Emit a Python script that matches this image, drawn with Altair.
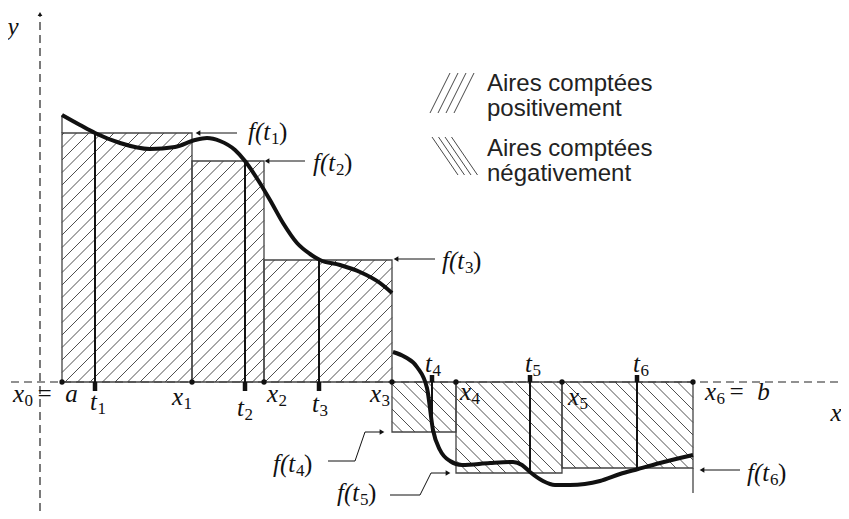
import math
import altair as alt
import pandas as pd

# ---------------- data (units: 1 unit = 10 px, origin at axes crossing) -------------
edges = [2.2, 15.2, 22.4, 35.2, 41.6, 52.2, 65.3]          # x0=a, x1..x6=b
heights = [24.9, 22.1, 12.2, -5.0, -9.1, -8.6]             # f(t1)..f(t6)
tags = [5.5, 20.5, 27.9, 39.2, 49.0, 59.7]                  # t1..t6

curve1_x = [2.2, 4.0, 5.5, 8.0, 11.0, 13.5, 15.5, 16.7, 18.0, 19.5, 20.5, 21.8,
            23.0, 24.3, 25.7, 27.0, 28.0, 30.0, 32.0, 34.0, 35.2]
curve1_y = [26.7, 25.7, 24.9, 23.9, 23.3, 23.5, 24.2, 24.4, 24.1, 23.2, 22.1, 20.2,
            18.2, 15.9, 13.9, 12.8, 12.2, 11.7, 11.0, 9.9, 8.9]
curve2_x = [35.3, 36.5, 37.7, 38.7, 39.3, 40.0, 41.0, 42.2, 45.0, 47.3, 48.2, 49.0,
            50.3, 51.5, 53.0, 56.0, 58.0, 59.8, 62.0, 64.0, 65.3]
curve2_y = [3.0, 2.5, 1.5, -0.6, -4.8, -6.8, -7.9, -8.3, -8.1, -8.0, -8.3, -9.0,
            -9.9, -10.3, -10.3, -9.9, -9.2, -8.7, -8.1, -7.6, -7.3]

# labels: left edge of the main letter and its baseline
x_subs = ["0", "1", "2", "3", "4", "5", "6"]
x_label_x = [-2.7, 13.2, 22.7, 33.0, 42.0, 52.8, 66.5]
x_label_y = [-2.0, -2.3, -2.0, -2.0, -1.8, -2.3, -1.8]
x_suffix = ["=\u2002a", "=\u2002b"]          # for x0 and x6
t_subs = ["1", "2", "3", "4", "5", "6"]
t_label_x = [5.0, 19.7, 27.2, 38.5, 48.5, 59.3]
t_label_y = [-2.8, -3.4, -3.0, 1.0, 1.0, 1.0]
f_label_x = [20.8, 27.3, 40.2, 23.3, 29.7, 70.7]
f_label_y = [24.2, 21.1, 11.3, -9.0, -11.9, -9.85]
axis_names = ["y", "x"]
axis_name_x = [-2.7, 79.6]
axis_name_y = [35.5, -3.1]

# straight arrows: start x, end x (tip), y
arrow_start = [19.7, 26.5, 39.5, 70.0]
arrow_tip = [15.8, 22.7, 35.6, 66.2]
arrow_y = [24.9, 22.1, 12.3, -8.8]
# bent arrows for f(t4), f(t5)
bent4_x = [28.8, 31.5, 32.5, 34.2]
bent4_y = [-7.9, -7.9, -5.0, -5.0]
bent5_x = [35.0, 38.0, 39.1, 40.8]
bent5_y = [-11.3, -11.3, -9.1, -9.1]

legend_text = ["Aires comptées", "positivement", "Aires comptées", "négativement"]
legend_text_x = [44.7, 44.7, 44.7, 44.7]
legend_text_y = [29.15, 26.6, 22.65, 20.1]
# swatches: left x, bottom y, top y, stroke run in x, spacing, count
legend_pos_swatch = [39.0, 26.9, 30.9, 2.0, 0.8, 4]
legend_neg_swatch = [39.2, 20.7, 24.5, 2.6, 0.65, 4]

X_DOMAIN = [-3.2, 80.1]
Y_DOMAIN = [-12.9, 37.4]
xs = alt.Scale(domain=X_DOMAIN, nice=False, zero=False)
ys = alt.Scale(domain=Y_DOMAIN, nice=False, zero=False)


def hatch(x0, x1, y0, y1, s, sign):
    segs = []
    if sign > 0:
        cmin, cmax = y0 - x1, y1 - x0
    else:
        cmin, cmax = x0 + y0, x1 + y1
    for k in range(math.ceil(cmin / s), math.floor(cmax / s) + 1):
        c = k * s
        if sign > 0:
            xa, xb = max(x0, y0 - c), min(x1, y1 - c)
            ya, yb = xa + c, xb + c
        else:
            xa, xb = max(x0, c - y1), min(x1, c - y0)
            ya, yb = c - xa, c - xb
        if xb - xa > 1e-6:
            segs.append(dict(x=xa, y=ya, x2=xb, y2=yb))
    return segs


def swatch(x0, yb, yt, run, s, n, sign):
    segs = []
    for k in range(n):
        xa = x0 + k * s
        if sign > 0:
            segs.append(dict(x=xa, y=yb, x2=xa + run, y2=yt))
        else:
            segs.append(dict(x=xa, y=yt, x2=xa + run, y2=yb))
    return segs


# ---------------- derived tables ----------------
rects = pd.DataFrame(dict(x=edges[:-1], x2=edges[1:],
                          y=[min(0, h) for h in heights],
                          y2=[max(0, h) for h in heights]))

hatch_rows = []
for i, h in enumerate(heights):
    lo, hi = min(0, h), max(0, h)
    hatch_rows += hatch(edges[i], edges[i + 1], lo, hi, 1.25, 1 if h > 0 else -1)
hatch_df = pd.DataFrame(hatch_rows)
legend_hatch = pd.DataFrame(swatch(*legend_pos_swatch, 1) + swatch(*legend_neg_swatch, -1))

curve = pd.DataFrame(dict(x=curve1_x + curve2_x, y=curve1_y + curve2_y,
                          piece=[1] * len(curve1_x) + [2] * len(curve2_x),
                          order=list(range(len(curve1_x) + len(curve2_x)))))

axes_df = pd.DataFrame(dict(x=[X_DOMAIN[0] + 0.3, 0], x2=[X_DOMAIN[1], 0],
                            y=[0, Y_DOMAIN[0]], y2=[0, 36.6]))

tag_lines = pd.DataFrame(dict(x=tags, x2=tags, y=[0] * 6, y2=heights))
tag_ticks = pd.DataFrame(dict(x=tags, x2=tags, y=[0] * 6,
                              y2=[-0.9 if h > 0 else 0.7 for h in heights]))
extra_edges = pd.DataFrame(dict(x=[edges[0], edges[-1]], x2=[edges[0], edges[-1]],
                                y=[heights[0], heights[-1]],
                                y2=[curve1_y[0], -11.1]))

arrows_straight = pd.DataFrame(dict(x=arrow_start, x2=arrow_tip, y=arrow_y, y2=arrow_y))
bent_rows = []
for bx, by in ((bent4_x, bent4_y), (bent5_x, bent5_y)):
    for j in range(len(bx) - 1):
        bent_rows.append(dict(x=bx[j], x2=bx[j + 1], y=by[j], y2=by[j + 1]))
arrows_bent = pd.DataFrame(bent_rows)
tips_left = pd.DataFrame(dict(x=arrow_tip, y=arrow_y))
tips_right = pd.DataFrame(dict(x=[bent4_x[-1], bent5_x[-1]], y=[bent4_y[-1], bent5_y[-1]]))
y_tip = pd.DataFrame(dict(x=[0], y=[36.8]))

dots = pd.DataFrame(dict(x=edges, y=[0] * len(edges)))

x_main = pd.DataFrame(dict(x=x_label_x, y=x_label_y, text=["x"] * 7))
x_sub = pd.DataFrame(dict(x=x_label_x, y=x_label_y, text=x_subs))
x_suf = pd.DataFrame(dict(x=[x_label_x[0], x_label_x[-1]], y=[x_label_y[0], x_label_y[-1]], text=x_suffix))
t_main = pd.DataFrame(dict(x=t_label_x, y=t_label_y, text=["t"] * 6))
t_sub = pd.DataFrame(dict(x=t_label_x, y=t_label_y, text=t_subs))
f_main = pd.DataFrame(dict(x=f_label_x, y=f_label_y, text=["f(t"] * 6))
f_sub = pd.DataFrame(dict(x=f_label_x, y=f_label_y, text=t_subs))
f_close = pd.DataFrame(dict(x=f_label_x, y=f_label_y, text=[")"] * 6))
names = pd.DataFrame(dict(x=axis_name_x, y=axis_name_y, text=axis_names))
legend_df = pd.DataFrame(dict(x=legend_text_x, y=legend_text_y, text=legend_text))


def seg_enc(base):
    return base.encode(
        x=alt.X("x:Q", scale=xs, axis=None), x2="x2:Q",
        y=alt.Y("y:Q", scale=ys, axis=None), y2="y2:Q")


def pt_enc(base):
    return base.encode(x=alt.X("x:Q", scale=xs, axis=None),
                       y=alt.Y("y:Q", scale=ys, axis=None))


MATH = dict(font="Liberation Serif", fontStyle="italic", fontSize=25, color="#111",
            align="left", baseline="alphabetic")
SUB = dict(font="Liberation Serif", fontSize=17, color="#111",
           align="left", baseline="alphabetic", dy=4)


def txt(df, **kw):
    return pt_enc(alt.Chart(df).mark_text(**kw)).encode(text="text:N")


layers = [
    seg_enc(alt.Chart(hatch_df).mark_rule(color="#222", strokeWidth=0.8)),
    seg_enc(alt.Chart(legend_hatch).mark_rule(color="#333", strokeWidth=0.9)),
    seg_enc(alt.Chart(axes_df).mark_rule(color="#222", strokeWidth=1.2, strokeDash=[8, 5])),
    seg_enc(alt.Chart(rects).mark_rect(fillOpacity=0, stroke="#444", strokeWidth=1.3)),
    seg_enc(alt.Chart(extra_edges).mark_rule(color="#444", strokeWidth=1.3)),
    seg_enc(alt.Chart(tag_lines).mark_rule(color="#111", strokeWidth=2)),
    seg_enc(alt.Chart(tag_ticks).mark_rule(color="#111", strokeWidth=4.5)),
    alt.Chart(curve).mark_line(color="#111", strokeWidth=4, interpolate="monotone").encode(
        x=alt.X("x:Q", scale=xs, axis=None), y=alt.Y("y:Q", scale=ys, axis=None),
        detail="piece:N", order="order:Q"),
    pt_enc(alt.Chart(dots).mark_circle(color="#111", size=28, opacity=1)),
    seg_enc(alt.Chart(arrows_straight).mark_rule(color="#111", strokeWidth=1)),
    seg_enc(alt.Chart(arrows_bent).mark_rule(color="#111", strokeWidth=1)),
    pt_enc(alt.Chart(tips_left).mark_point(shape="triangle-left", filled=True, color="#111", size=30, opacity=1)),
    pt_enc(alt.Chart(tips_right).mark_point(shape="triangle-right", filled=True, color="#111", size=30, opacity=1)),
    pt_enc(alt.Chart(y_tip).mark_point(shape="triangle-up", filled=True, color="#111", size=22, opacity=1)),
    txt(x_main, **MATH),
    txt(x_sub, **{**SUB, "dx": 11.5}),
    txt(x_suf, **{**MATH, "dx": 23}),
    txt(t_main, **MATH),
    txt(t_sub, **{**SUB, "dx": 7.5}),
    txt(f_main, **MATH),
    txt(f_sub, **{**SUB, "dx": 23}),
    txt(f_close, **{**MATH, "fontStyle": "normal", "dx": 31}),
    txt(names, **{**MATH, "align": "center", "baseline": "middle"}),
    txt(legend_df, font="Liberation Sans", fontSize=24, align="left",
        baseline="alphabetic", color="#222"),
]

chart = alt.layer(*layers).properties(
    width=833, height=503, autosize=alt.AutoSizeParams(type="none"), padding=0
).configure_view(stroke=None)

chart.save("out.html", embed_options={"renderer": "svg", "actions": False})
